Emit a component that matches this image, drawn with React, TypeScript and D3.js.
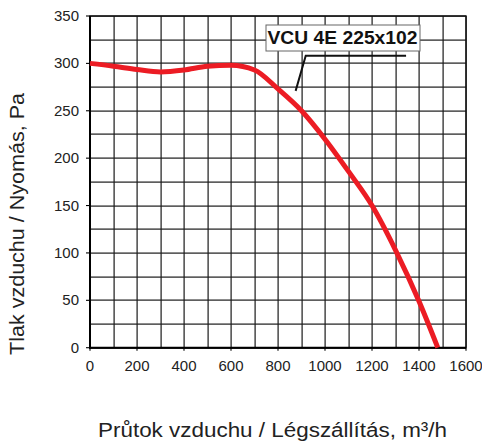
import { useEffect, useRef } from 'react';
import * as d3 from 'd3';

// fan curve
const flow = [0, 100, 200, 300, 400, 500, 600, 700, 800, 900, 1000, 1100, 1200, 1300, 1400, 1480];
const pressure = [300, 297, 293.5, 291, 293, 297, 298, 293, 273, 250, 220, 186, 150, 103, 49, 0];

const xTicks = [0, 200, 400, 600, 800, 1000, 1200, 1400, 1600];
const yTicks = [0, 50, 100, 150, 200, 250, 300, 350];
const xGrid = d3.range(0, 1601, 100);
const yGrid = d3.range(0, 351, 25);

const modelName = 'VCU 4E 225x102';
const leader: [number, number][] = [[1345, 308], [918, 308], [875, 271]];

const W = 482;
const H = 446;
const m = { left: 90, right: 16, top: 16, bottom: 98.3 };

const FONT = '"Liberation Sans", Arial, Helvetica, sans-serif';

export default function App() {
  const ref = useRef<SVGSVGElement>(null);

  useEffect(() => {
    if (!ref.current) return;
    const svg = d3.select(ref.current);
    svg.selectAll('*').remove();

    const x = d3.scaleLinear().domain([0, 1600]).range([m.left, W - m.right]);
    const y = d3.scaleLinear().domain([0, 350]).range([H - m.bottom, m.top]);
    const left = x(0), right = x(1600), bottom = y(0), top = y(350);

    // grid drawn as 1px filled bars
    const grid = svg.append('g');
    grid.selectAll('.gx').data(xGrid).enter().append('rect')
      .attr('x', d => Math.round(x(d)) - 0.5).attr('y', top).attr('width', 1.2).attr('height', bottom - top)
      .attr('fill', '#1a1a1a');
    grid.selectAll('.gy').data(yGrid).enter().append('rect')
      .attr('x', left).attr('y', d => Math.round(y(d)) - 0.5).attr('width', right - left).attr('height', 1.2)
      .attr('fill', '#1a1a1a');

    // frame + axes
    svg.append('rect').attr('x', left).attr('y', top).attr('width', right - left).attr('height', bottom - top)
      .attr('fill', 'none').attr('stroke', '#111').attr('stroke-width', 1.4);
    svg.append('line').attr('x1', left).attr('x2', left).attr('y1', top).attr('y2', bottom + 1)
      .attr('stroke', '#000').attr('stroke-width', 2);
    svg.append('line').attr('x1', left - 1).attr('x2', right).attr('y1', bottom).attr('y2', bottom)
      .attr('stroke', '#000').attr('stroke-width', 2);

    svg.selectAll('.ky').data(yTicks).enter().append('line')
      .attr('x1', left - 4).attr('x2', left).attr('y1', d => y(d)).attr('y2', d => y(d))
      .attr('stroke', '#000').attr('stroke-width', 1.1);
    svg.selectAll('.kx').data(xTicks).enter().append('line')
      .attr('x1', d => x(d)).attr('x2', d => x(d)).attr('y1', bottom).attr('y2', bottom + 3)
      .attr('stroke', '#000').attr('stroke-width', 1.1);

    svg.selectAll('.ty').data(yTicks).enter().append('text')
      .attr('x', 79).attr('y', d => y(d) + 5).attr('text-anchor', 'end')
      .attr('font-size', 15).attr('font-family', FONT).attr('fill', '#222').text(d => d);
    svg.selectAll('.tx').data(xTicks).enter().append('text')
      .attr('x', d => x(d)).attr('y', 370.5).attr('text-anchor', 'middle')
      .attr('font-size', 15).attr('font-family', FONT).attr('fill', '#222').text(d => d);

    // curve
    const pts = flow.map((f, i) => [f, pressure[i]] as [number, number]);
    const line = d3.line<[number, number]>().x(d => x(d[0])).y(d => y(d[1])).curve(d3.curveMonotoneX);
    svg.append('path').attr('d', line(pts) ?? '').attr('fill', 'none')
      .attr('stroke', '#ec1c24').attr('stroke-width', 5);

    // model label
    const lead = d3.line<[number, number]>().x(d => x(d[0])).y(d => y(d[1]));
    svg.append('path').attr('d', lead(leader) ?? '').attr('fill', 'none')
      .attr('stroke', '#111').attr('stroke-width', 2);
    svg.append('rect').attr('x', 266).attr('y', 25).attr('width', 154).attr('height', 26)
      .attr('fill', '#fff').attr('stroke', '#666').attr('stroke-width', 1);
    svg.append('text').attr('x', 267.5).attr('y', 44.2).attr('font-size', 17.5).attr('font-weight', 'bold')
      .attr('font-family', FONT).attr('fill', '#111')
      .attr('textLength', 150).attr('lengthAdjust', 'spacingAndGlyphs').text(modelName);

    // axis titles
    svg.append('text').attr('transform', 'translate(24,224) rotate(-90)').attr('text-anchor', 'middle')
      .attr('font-size', 20).attr('font-family', FONT).attr('fill', '#222')
      .attr('textLength', 262).attr('lengthAdjust', 'spacingAndGlyphs').text('Tlak vzduchu / Nyomás, Pa');
    svg.append('text').attr('x', 272.5).attr('y', 437).attr('text-anchor', 'middle')
      .attr('font-size', 20).attr('font-family', FONT).attr('fill', '#222')
      .attr('textLength', 349).attr('lengthAdjust', 'spacingAndGlyphs').text('Průtok vzduchu / Légszállítás, m³/h');
  }, []);

  return <svg ref={ref} width={W} height={H} style={{ position: 'absolute', left: 0, top: 0 }} />;
}
